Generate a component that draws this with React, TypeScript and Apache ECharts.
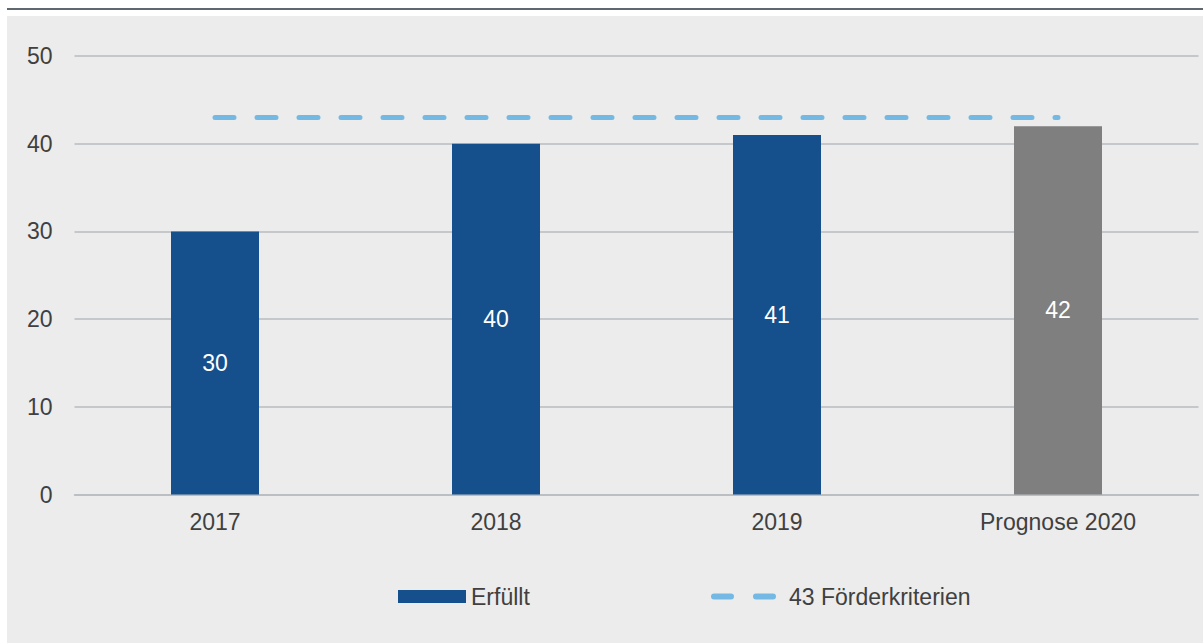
import React, { useEffect, useRef } from "react";
import * as echarts from "echarts";

const categories = ["2017", "2018", "2019", "Prognose 2020"];
const fulfilled = [30, 40, 41, 42];
const criteria = [43, 43, 43, 43];
const yTicks = [0, 10, 20, 30, 40, 50];
const barSeriesName = "Erfüllt";
const lineSeriesName = "43 Förderkriterien";
const forecastIndex = 3;

const FONT = "'Liberation Sans', Arial, sans-serif";
const FS = 23;
const TEXT = "#404040";
const BLUE = "#154f8c";
const GRAY = "#7f7f7f";
const LIGHTBLUE = "#74b9e4";

export default function App() {
  const ref = useRef<HTMLDivElement>(null);
  useEffect(() => {
    if (!ref.current) return;
    const chart = echarts.init(ref.current, undefined, { renderer: "svg" });
    chart.setOption({
      animation: false,
      backgroundColor: "transparent",
      textStyle: { fontFamily: FONT },
      grid: { left: 74.5, top: 56, width: 1124, height: 438.5, containLabel: false },
      xAxis: {
        type: "category",
        data: categories,
        axisTick: { show: false },
        axisLine: { lineStyle: { color: "#b8bcbf", width: 1.5 } },
        axisLabel: { color: TEXT, fontSize: FS, margin: 16, fontFamily: FONT },
      },
      yAxis: {
        type: "value",
        min: yTicks[0],
        max: yTicks[yTicks.length - 1],
        interval: 10,
        axisLine: { show: false },
        axisTick: { show: false },
        splitLine: { lineStyle: { color: "#b8bcbf", width: 1.5 } },
        axisLabel: { color: TEXT, fontSize: FS, margin: 22, fontFamily: FONT },
      },
      legend: [
        {
          data: [barSeriesName],
          left: 393,
          top: 580,
          itemWidth: 68,
          itemHeight: 13,
          icon: "rect",
          textStyle: { color: TEXT, fontSize: FS, fontFamily: FONT },
        },
        {
          data: [
            {
              name: lineSeriesName,
              icon: "path://M3,0H20A3,3 0 0 1 20,6H3A3,3 0 0 1 3,0Z M45,0H62A3,3 0 0 1 62,6H45A3,3 0 0 1 45,0Z",
              itemStyle: { color: LIGHTBLUE },
            },
          ],
          left: 706,
          top: 580,
          itemWidth: 65,
          itemHeight: 6,
          textStyle: { color: TEXT, fontSize: FS, fontFamily: FONT, padding: [0, 0, 0, 8] },
        },
      ],
      series: [
        {
          name: barSeriesName,
          type: "bar",
          barWidth: 88,
          itemStyle: { color: BLUE },
          data: fulfilled.map((v, i) =>
            i === forecastIndex ? { value: v, itemStyle: { color: GRAY } } : v
          ),
          label: {
            show: true,
            position: "inside",
            color: "#ffffff",
            fontSize: FS,
            fontFamily: FONT,
          },
        },
        {
          name: lineSeriesName,
          type: "line",
          data: criteria,
          symbol: "none",
          itemStyle: { color: LIGHTBLUE },
          lineStyle: { color: LIGHTBLUE, width: 5, type: [19, 23], cap: "round" },
          z: 3,
        },
      ],
    });
    return () => chart.dispose();
  }, []);

  return (
    <div style={{ position: "fixed", left: 0, top: 0, width: 1203, height: 643, background: "#ffffff" }}>
      <div style={{ position: "absolute", left: 7, right: 0, top: 8, height: 2, background: "#5f686e" }} />
      <div style={{ position: "absolute", left: 7, right: 0, top: 16, bottom: 0, background: "#ececec" }} />
      <div ref={ref} style={{ position: "absolute", left: 0, top: 0, width: 1203, height: 643 }} />
    </div>
  );
}
